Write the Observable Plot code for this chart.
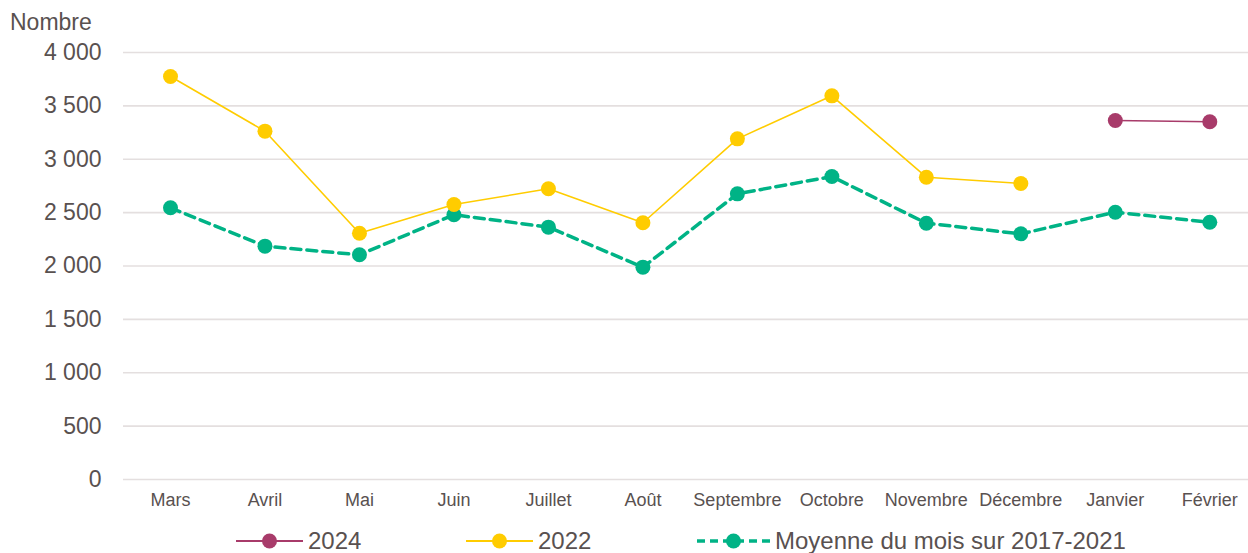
<!DOCTYPE html>
<html>
<head>
<meta charset="utf-8">
<script src="https://cdn.jsdelivr.net/npm/d3@7"></script>
<script src="https://cdn.jsdelivr.net/npm/@observablehq/plot@0.6"></script>
<style>
  html, body { margin: 0; padding: 0; background: #fff; }
  body { width: 1248px; height: 553px; position: relative; overflow: hidden;
         font-family: "Liberation Sans", Arial, sans-serif; color: #595150; }
  #title { position: absolute; left: 10px; top: 8px; font-size: 23px; line-height: 28px; }
  #chart { position: absolute; left: 0; top: 0; }
  #legend { position: absolute; left: 0; top: 527px; width: 1248px; height: 28px; }
  .item { position: absolute; top: 0; display: flex; align-items: center; font-size: 24px; line-height: 28px; }
  .item svg { display: block; margin-right: 5px; }
</style>
</head>
<body>
<div id="chart"></div>
<div id="title">Nombre</div>
<div id="legend"></div>
<script>
const months = ["Mars","Avril","Mai","Juin","Juillet","Août","Septembre","Octobre","Novembre","Décembre","Janvier","Février"];
const yTicks = [0, 500, 1000, 1500, 2000, 2500, 3000, 3500, 4000];

const seriesNames = ["2024", "2022", "Moyenne du mois sur 2017-2021"];
const seriesColors = ["#a83b6a", "#ffcc00", "#00b386"];

const months2024 = ["Janvier", "Février"];
const values2024 = [3363, 3351];

const months2022 = ["Mars","Avril","Mai","Juin","Juillet","Août","Septembre","Octobre","Novembre","Décembre"];
const values2022 = [3775, 3263, 2307, 2576, 2723, 2405, 3191, 3594, 2832, 2773];

const valuesMoyenne = [2545, 2186, 2105, 2480, 2364, 1989, 2676, 2838, 2401, 2301, 2504, 2410];

const d2024 = months2024.map((m, i) => ({month: m, value: values2024[i]}));
const d2022 = months2022.map((m, i) => ({month: m, value: values2022[i]}));
const dMoy = months.map((m, i) => ({month: m, value: valuesMoyenne[i]}));

const fmt = d => d3.format(",")(d).replace(/,/g, " ");
const textColor = "#595150";

const chart = Plot.plot({
  width: 1248,
  height: 520,
  marginLeft: 123,
  marginRight: 0,
  marginTop: 52,
  marginBottom: 41,
  style: {fontFamily: "Liberation Sans, Arial, sans-serif", color: textColor, background: "white"},
  x: {type: "point", domain: months, range: [170, 1209.3], padding: 0, round: false},
  y: {domain: [0, 4000], range: [479, 52]},
  marks: [
    Plot.ruleY(yTicks, {stroke: "#e4dfdf", strokeWidth: 1.6}),
    Plot.axisY({ticks: yTicks, tickSize: 0, tickPadding: 22, tickFormat: fmt, fontSize: 23, fill: textColor, label: null}),
    Plot.axisX({tickSize: 0, tickPadding: 14, fontSize: 18, fill: textColor, label: null}),
    Plot.line(dMoy, {x: "month", y: "value", stroke: seriesColors[2], strokeWidth: 3.5, strokeDasharray: "10,6"}),
    Plot.dot(dMoy, {x: "month", y: "value", r: 7.5, fill: seriesColors[2], stroke: "none"}),
    Plot.line(d2022, {x: "month", y: "value", stroke: seriesColors[1], strokeWidth: 1.6}),
    Plot.dot(d2022, {x: "month", y: "value", r: 7.5, fill: seriesColors[1], stroke: "none"}),
    Plot.line(d2024, {x: "month", y: "value", stroke: seriesColors[0], strokeWidth: 1.6}),
    Plot.dot(d2024, {x: "month", y: "value", r: 7.5, fill: seriesColors[0], stroke: "none"})
  ]
});
document.getElementById("chart").appendChild(chart);

// Legend
const legendPos = [236, 466, 697];
const legend = document.getElementById("legend");
seriesNames.forEach((name, i) => {
  const div = document.createElement("div");
  div.className = "item";
  div.style.left = legendPos[i] + "px";
  const dashed = i === 2;
  const w = dashed ? 73 : 67;
  div.innerHTML = `<svg width="${w}" height="20">
    <line x1="0" x2="${w}" y1="10" y2="10" stroke="${seriesColors[i]}" stroke-width="${dashed ? 3.5 : 1.8}" ${dashed ? 'stroke-dasharray="8,5"' : ''}/>
    <circle cx="${w/2}" cy="10" r="7.5" fill="${seriesColors[i]}"/>
  </svg><span>${name}</span>`;
  legend.appendChild(div);
});
</script>
</body>
</html>
